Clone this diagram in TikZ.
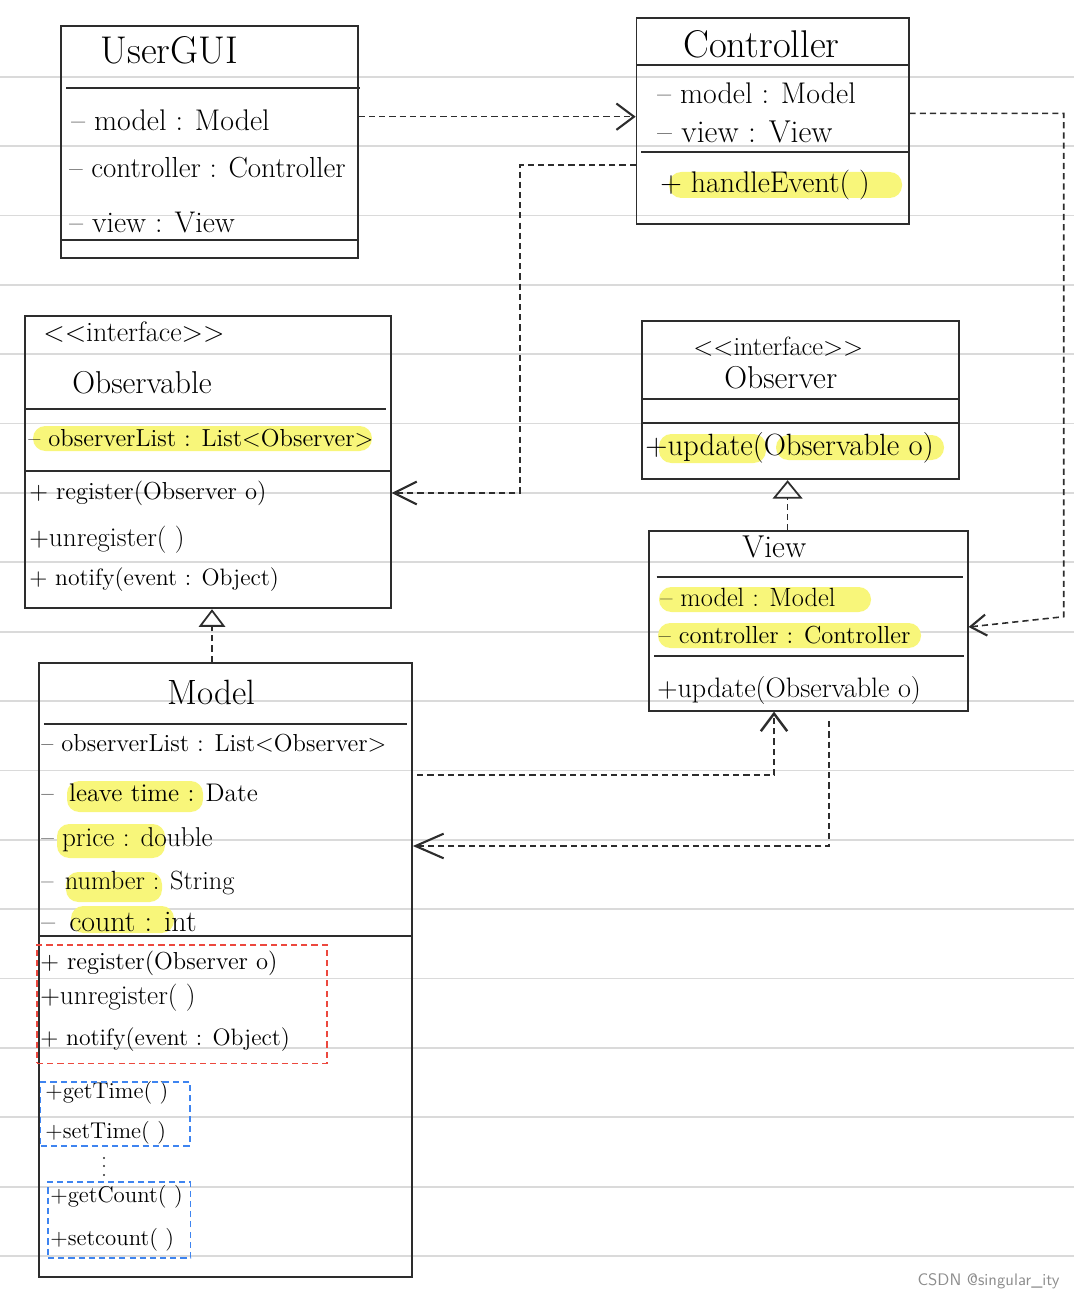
\documentclass[tikz,border=0pt]{standalone}
\usepackage{tikz}
\usetikzlibrary{arrows.meta, fit}
\definecolor{hilite}{RGB}{248,246,122}
\definecolor{paperline}{RGB}{218,218,218}
\definecolor{ink}{RGB}{45,45,45}
\definecolor{redgrp}{RGB}{236,72,62}
\definecolor{bluegrp}{RGB}{62,132,240}

\tikzset{
  classbox/.style={draw=ink, line width=1pt, inner sep=0pt},
  sepline/.style={draw=ink, line width=1pt},
  ruleline/.style={draw=paperline, line width=1pt},
  clsname/.style={anchor=west, inner sep=0pt, font=\fontsize{20}{24}\selectfont},
  stereo/.style={anchor=west, inner sep=0pt, font=\fontsize{16}{19}\selectfont},
  attr/.style={anchor=west, inner sep=0pt, font=\fontsize{16}{19}\selectfont},
  meth/.style={anchor=west, inner sep=0pt, font=\fontsize{14}{17}\selectfont},
  getset/.style={anchor=west, inner sep=0pt, font=\fontsize{13}{16}\selectfont},
  hl/.style={fill=hilite, rounded corners=7pt},
  grp/.style={dash pattern=on 3.5pt off 2.3pt, line width=0.9pt, inner sep=0pt},
  dep/.style={draw=ink, line width=0.9pt, dash pattern=on 3.5pt off 2.3pt},
  real/.style={dep, -{Triangle[open, length=10pt, width=15pt, line width=1pt]}},
  watermark/.style={inner sep=0pt, text=black!45, font=\sffamily\fontsize{9.5}{11}\selectfont}
}

\begin{document}
\begin{tikzpicture}[x=0.02cm, y=-0.02cm]
  \useasboundingbox (0,0) rectangle (1074,1300);
  \foreach \i in {0,...,17}
    \draw[ruleline] (0,{76.7+69.375*\i}) -- (1074,{76.7+69.375*\i});

  % highlighter
  \fill[hl] (669,172) rectangle (902,198);
  \fill[hl] (33,426) rectangle (372,451);
  \fill[hl] (659,434) rectangle (766,463);
  \fill[hl] (776,435) rectangle (944,460);
  \fill[hl] (659,587) rectangle (871,612);
  \fill[hl] (658,623) rectangle (921,648);
  \fill[hl] (67,781) rectangle (203,812);
  \fill[hl] (57,824) rectangle (165,858);
  \fill[hl] (66,872) rectangle (162,902);
  \fill[hl] (71,906) rectangle (174,933);

  % UserGUI
  \node[classbox, fit={(61,26) (358,258)}] (usergui) {};
  \draw[sepline] (66,88) -- (360,88);
  \draw[sepline] (61,240) -- (358,240);
  \node[clsname, font=\fontsize{22}{26}\selectfont] (uTitle) at (100,50) {UserGUI};
  \node[attr, font=\fontsize{17}{20}\selectfont] (uModel) at (71,120) {-- model : Model};
  \node[attr, font=\fontsize{16.5}{20}\selectfont] (uCtrl) at (69,168) {-- controller : Controller};
  \node[attr, font=\fontsize{17}{20}\selectfont] (uView) at (69,223) {-- view : View};

  % Controller
  \node[classbox, fit={(636.6,18) (908.7,224.3)}] (ctrl) {};
  \draw[sepline] (636.6,65.3) -- (910,65.3);
  \draw[sepline] (641,151.7) -- (910,151.7);
  \node[clsname, font=\fontsize{22}{26}\selectfont] (cTitle) at (683,44) {Controller};
  \node[attr, font=\fontsize{17}{20}\selectfont] (cModel) at (657,93) {-- model : Model};
  \node[attr, font=\fontsize{18}{21}\selectfont] (cView) at (657,132) {-- view : View};
  \node[attr, font=\fontsize{17}{20}\selectfont] (cHandle) at (660,185) {+ handleEvent( )};

  % Observable
  \node[classbox, fit={(24.8,315.7) (390.7,608.3)}] (observable) {};
  \draw[sepline] (25,409.3) -- (386,409.3);
  \draw[sepline] (24.8,470.7) -- (390.7,470.7);
  \node[stereo] (oStereo) at (43,332) {<{}<interface>{}>};
  \node[clsname, font=\fontsize{18}{22}\selectfont] (oTitle) at (72,383) {Observable};
  \node[meth] (oList) at (28,438) {-- observerList : List<Observer>};
  \node[meth] (oReg) at (29,493) {+ register(Observer o)};
  \node[meth, font=\fontsize{15.5}{18}\selectfont] (oUnreg) at (29,540) {+unregister( )};
  \node[meth, font=\fontsize{13.5}{16}\selectfont] (oNotify) at (29,580) {+ notify(event : Object)};

  % Observer
  \node[classbox, fit={(641.8,321) (959,479.3)}] (observer) {};
  \draw[sepline] (641.8,399.3) -- (959,399.3);
  \draw[sepline] (641.8,423.3) -- (960,423.3);
  \node[stereo, font=\fontsize{15}{18}\selectfont] (rStereo) at (693,347) {<{}<interface>{}>};
  \node[clsname, font=\fontsize{18}{22}\selectfont] (rTitle) at (724,378) {Observer};
  \node[attr, font=\fontsize{17.5}{20}\selectfont] (rUpdate) at (645,448) {+update(Observable o)};

  % View
  \node[classbox, fit={(649,531) (967.7,710.7)}] (view) {};
  \draw[sepline] (656.7,576.7) -- (963,576.7);
  \draw[sepline] (654,655.7) -- (964,655.7);
  \node[clsname, font=\fontsize{18}{22}\selectfont] (vTitle) at (742,547) {View};
  \node[attr, font=\fontsize{15}{18}\selectfont] (vModel) at (660,597) {-- model : Model};
  \node[meth] (vCtrl) at (658.5,635) {-- controller : Controller};
  \node[attr] (vUpdate) at (657,690) {+update(Observable o)};

  % Model
  \node[classbox, fit={(39,662.7) (412,1276.7)}] (model) {};
  \draw[sepline] (43.8,724) -- (407,724);
  \draw[sepline] (39,936) -- (412,936);
  \node[clsname] (mTitle) at (167,692) {Model};
  \node[meth] (mList) at (41,743) {-- observerList : List<Observer>};
  \node[attr, font=\fontsize{14.5}{17}\selectfont] (mLeave) at (41,793) {-- \hspace{4pt}leave time : Date};
  \node[attr, font=\fontsize{15.5}{18}\selectfont] (mPrice) at (41,840) {-- price : double};
  \node[attr, font=\fontsize{15}{18}\selectfont] (mNumber) at (41,883) {-- \hspace{2pt}number : String};
  \node[attr, font=\fontsize{17}{20}\selectfont] (mCount) at (41,921.7) {-- \hspace{3pt}count : int};
  \node[meth] (mReg) at (40,963) {+ register(Observer o)};
  \node[meth, font=\fontsize{15.5}{18}\selectfont] (mUnreg) at (40,998) {+unregister( )};
  \node[meth, font=\fontsize{13.5}{16}\selectfont] (mNotify) at (40,1040) {+ notify(event : Object)};
  \node[getset] (mGetT) at (45,1093) {+getTime( )};
  \node[getset] (mSetT) at (45,1133) {+setTime( )};
  \node[getset] (mGetC) at (50,1197) {+getCount( )};
  \node[getset] (mSetC) at (50,1240) {+setcount( )};
  \foreach \d in {1158,1166,1175}
    \fill[ink] (104,\d) circle (1.1);
  \node[grp, draw=redgrp, fit={(37,945) (327,1063.3)}] (grpObs) {};
  \node[grp, draw=bluegrp, fit={(40.7,1082) (190,1145.7)}] (grpTime) {};
  \node[grp, draw=bluegrp, fit={(48,1182) (190.7,1258)}] (grpCount) {};

  % connectors
  \coordinate (bendA) at (520,165);
  \coordinate (bendB) at (520,493);
  \coordinate (bendC) at (1063.7,113.3);
  \coordinate (bendD) at (1063.7,616.7);
  \coordinate (bendE) at (774,775);
  \coordinate (bendF) at (829,846);
  \draw[dep, -{Straight Barb[length=10pt, width=15pt, line width=1.2pt]}]
    (usergui.east |- 0,116.7) -- (ctrl.west |- 0,116.7);
  \draw[dep, -{Straight Barb[length=13pt, width=13pt, line width=1.2pt]}]
    (ctrl.west |- bendA) -- (bendA) -- (bendB) -- (observable.east |- bendB);
  \draw[dep, -{Straight Barb[length=9pt, width=12pt, line width=1.2pt]}]
    (ctrl.east |- bendC) -- (bendC) -- (bendD) -- (view.east |- 0,627);
  \draw[dep, -{Straight Barb[length=10pt, width=15pt, line width=1.4pt]}]
    ([xshift=2.5pt]model.east |- bendE) -- (bendE) -- (view.south -| bendE);
  \draw[dep, shorten <=5.5pt, -{Straight Barb[length=16pt, width=14pt, line width=1.2pt]}]
    (view.south -| bendF) -- (bendF) -- (model.east |- bendF);
  \draw[real] (model.north -| 212,0) -- (observable.south -| 212,0);
  \draw[real, -{Triangle[open, length=10.5pt, width=17pt, line width=1pt]}]
    (view.north -| 787.6,0) -- (observer.south -| 787.6,0);

  \node[watermark, anchor=east] (csdn) at (1060,1281) {CSDN @singular\_ity};
\end{tikzpicture}
\end{document}
